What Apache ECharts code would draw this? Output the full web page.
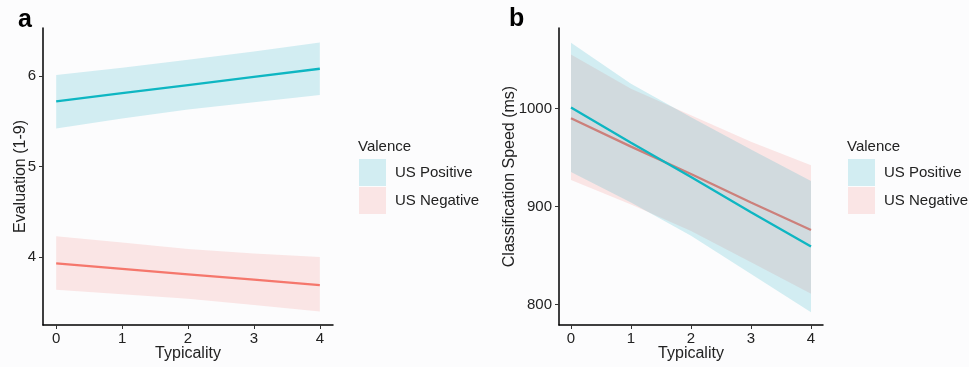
<!DOCTYPE html>
<html>
<head>
<meta charset="utf-8">
<script src="https://cdn.jsdelivr.net/npm/echarts@6/dist/echarts.min.js"></script>
<style>
html,body{margin:0;padding:0;background:#fcfcfd;}
#chart{width:969px;height:367px;}
</style>
</head>
<body>
<div id="chart"></div>
<script>
// Typicality values (x)
var typicality = [0, 1, 2, 3, 4];
var xTicks = [0, 1, 2, 3, 4];

// Panel a: Evaluation (1-9)
var evalPosFit   = [5.72, 5.81, 5.90, 5.99, 6.08];
var evalPosUpper = [6.01, 6.09, 6.18, 6.27, 6.37];
var evalPosLower = [5.42, 5.53, 5.63, 5.71, 5.79];
var evalNegFit   = [3.93, 3.87, 3.81, 3.75, 3.69];
var evalNegUpper = [4.23, 4.16, 4.09, 4.04, 4.00];
var evalNegLower = [3.64, 3.59, 3.54, 3.47, 3.40];
var evalTicks = [4, 5, 6];

// Panel b: Classification Speed (ms)
var speedPosFit   = [1001, 965, 930, 894, 859];
var speedPosUpper = [1067, 1025, 991, 958, 926];
var speedPosLower = [935, 904, 870, 831, 792];
var speedNegFit   = [990, 961, 933, 904, 876];
var speedNegUpper = [1055, 1020, 993, 966, 942];
var speedNegLower = [927, 902, 875, 843, 811];
var speedTicks = [800, 900, 1000];

var legendNames = ['US Positive', 'US Negative'];

var POS = '#0EB6C2', NEG = '#F5776C';
var POS_FILL = 'rgba(20,172,192,0.18)', NEG_FILL = 'rgba(242,116,112,0.17)';
var TXT = '#222222';
var FONT = 'Liberation Sans, Arial, sans-serif';

function pairs(arr) { return typicality.map(function (x, i) { return [x, arr[i]]; }); }

function band(name, idx, lower, upper, fill, z) {
  return {
    type: 'custom', name: name, xAxisIndex: idx, yAxisIndex: idx, color: fill, z: z,
    data: typicality.map(function (x, i) { return [x, lower[i], upper[i]]; }),
    encode: { x: 0, y: [1, 2] },
    silent: true, clip: true,
    renderItem: function (params, api) {
      if (params.dataIndexInside !== 0) { return null; }
      var n = typicality.length, top = [], bot = [];
      for (var i = 0; i < n; i++) {
        top.push(api.coord([api.value(0, i), api.value(2, i)]));
        bot.push(api.coord([api.value(0, i), api.value(1, i)]));
      }
      return { type: 'polygon', shape: { points: top.concat(bot.reverse()) }, style: { fill: fill } };
    }
  };
}
function fitLine(name, idx, fit, color, z) {
  return { type: 'line', name: name, xAxisIndex: idx, yAxisIndex: idx, data: pairs(fit), z: z,
    symbol: 'none', color: color, lineStyle: { color: color, width: 2.3 }, silent: true };
}

function xAxisDef(idx) {
  return {
    type: 'value', gridIndex: idx, min: -0.2, max: 4.2,
    name: 'Typicality', nameLocation: 'middle', nameGap: 21, nameMoveOverlap: false,
    nameTextStyle: { fontSize: 16, color: TXT, fontFamily: FONT },
    axisLine: { show: true, onZero: false, lineStyle: { color: '#000', width: 1.5 } },
    axisTick: { show: true, length: 4, customValues: xTicks, lineStyle: { color: '#333', width: 1 } },
    axisLabel: { customValues: xTicks, margin: 6, fontSize: 15, color: TXT, fontFamily: FONT },
    splitLine: { show: false }
  };
}
function yAxisDef(idx, min, max, ticks, name, gap) {
  return {
    type: 'value', gridIndex: idx, min: min, max: max,
    name: name, nameLocation: 'middle', nameGap: gap, nameMoveOverlap: false,
    nameTextStyle: { fontSize: 16, color: TXT, fontFamily: FONT },
    axisLine: { show: true, onZero: false, lineStyle: { color: '#000', width: 1.5 } },
    axisTick: { show: true, length: 4, customValues: ticks, lineStyle: { color: '#333', width: 1 } },
    axisLabel: { customValues: ticks, margin: 7, fontSize: 15, color: TXT, fontFamily: FONT,
      formatter: function (v) { return String(v); } },
    splitLine: { show: false }
  };
}
function legendDef(left) {
  return {
    orient: 'vertical', left: left, top: 159, itemWidth: 27, itemHeight: 27, itemGap: 1,
    padding: 0, selectedMode: false,
    textStyle: { fontSize: 15, color: TXT, fontFamily: FONT, padding: [0, 0, 0, 4] },
    data: [
      { name: legendNames[0], icon: 'rect', itemStyle: { color: POS_FILL, borderWidth: 0 } },
      { name: legendNames[1], icon: 'rect', itemStyle: { color: NEG_FILL, borderWidth: 0 } }
    ]
  };
}

var chart = echarts.init(document.getElementById('chart'), null, { renderer: 'canvas' });
var series = [
  band(legendNames[1], 0, evalNegLower, evalNegUpper, NEG_FILL, 3),
  fitLine('negFitA', 0, evalNegFit, NEG, 4),
  band(legendNames[0], 0, evalPosLower, evalPosUpper, POS_FILL, 5),
  fitLine('posFitA', 0, evalPosFit, POS, 6),
  band(legendNames[1], 1, speedNegLower, speedNegUpper, NEG_FILL, 3),
  fitLine('negFitB', 1, speedNegFit, NEG, 4),
  band(legendNames[0], 1, speedPosLower, speedPosUpper, POS_FILL, 5),
  fitLine('posFitB', 1, speedPosFit, POS, 6)
];

chart.setOption({
  backgroundColor: '#fcfcfd',
  animation: false,
  title: [
    { text: 'a', left: 13, top: 3, textStyle: { fontSize: 25, fontWeight: 'bold', color: '#000', fontFamily: FONT } },
    { text: 'b', left: 504, top: 2, textStyle: { fontSize: 25, fontWeight: 'bold', color: '#000', fontFamily: FONT } },
    { text: 'Valence', left: 353, top: 134, textStyle: { fontSize: 15, fontWeight: 'normal', color: TXT, fontFamily: FONT } },
    { text: 'Valence', left: 842, top: 134, textStyle: { fontSize: 15, fontWeight: 'normal', color: TXT, fontFamily: FONT } }
  ],
  legend: [legendDef(359), legendDef(848)],
  grid: [
    { left: 43, top: 28, width: 290, height: 297 },
    { left: 559, top: 28, width: 264, height: 297 }
  ],
  xAxis: [xAxisDef(0), xAxisDef(1)],
  yAxis: [
    yAxisDef(0, 3.25, 6.53, evalTicks, 'Evaluation (1-9)', 14),
    yAxisDef(1, 779, 1082, speedTicks, 'Classification Speed (ms)', 41)
  ],
  series: series
});
</script>
</body>
</html>
